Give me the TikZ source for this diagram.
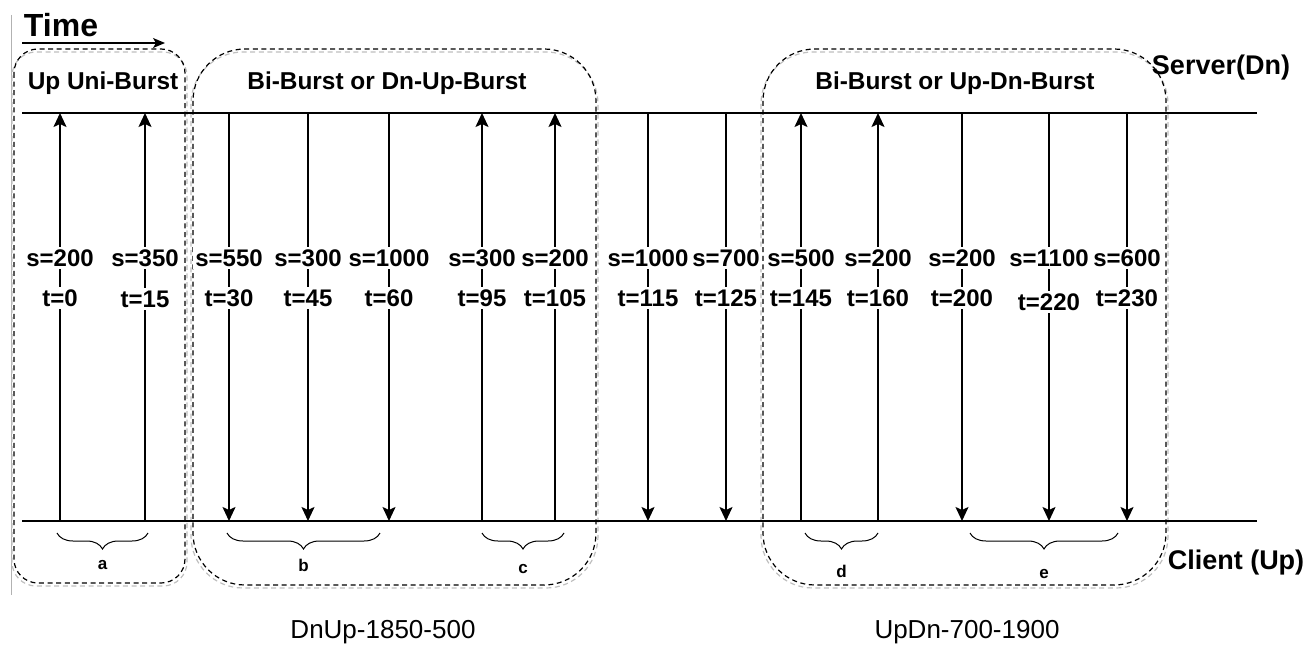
\documentclass[tikz,border=0pt]{standalone}
\usepackage{fontspec}
\setmainfont{Liberation Sans}
\usetikzlibrary{arrows.meta,decorations.pathreplacing}
\begin{document}
\begin{tikzpicture}[x=0.5pt,y=-0.5pt,
  axisline/.style={line width=0.6pt},
  msg/.style={line width=0.9pt,-{Stealth[length=7pt,width=6.5pt,inset=1.5pt]}},
  lbl/.style={fill=white,inner sep=1.2pt,font=\bfseries\fontsize{12}{14}\selectfont},
  burst/.style={dash pattern=on 2.5pt off 1.8pt,line width=0.6pt},
  burstshadow/.style={dash pattern=on 2.5pt off 1.8pt,line width=0.6pt,draw=black!25},
  title/.style={font=\bfseries\fontsize{12.2}{14}\selectfont},
  side/.style={font=\bfseries\fontsize{13.5}{16}\selectfont},
  brc/.style={decorate,decoration={brace,mirror,amplitude=8pt},line width=0.5pt},
  brlbl/.style={font=\bfseries\fontsize{8.5}{10}\selectfont},
  caption/.style={font=\fontsize{13}{16}\selectfont}
]
\useasboundingbox (0,0) rectangle (1312,658);
% left gray margin line
\draw[black!30,line width=0.5pt] (11,15) -- (11,595);
% time arrow
\node[font=\bfseries\fontsize{16}{18}\selectfont] (time) at (61,25) {Time};
\coordinate (timeL) at (22,43);
\coordinate (timeR) at (165,43);
\draw[line width=0.6pt,-{Stealth[length=6pt,width=5pt,inset=1.5pt]}] (timeL) -- (timeR);
% burst boxes
\draw[burstshadow,rounded corners=12pt] (12,52) rectangle (187,586);
\draw[burst,rounded corners=12pt] (14,49) rectangle (185,583);
\draw[burstshadow,rounded corners=26pt] (191,52) rectangle (598,588);
\draw[burst,rounded corners=26pt] (193,49) rectangle (596,585);
\draw[burstshadow,rounded corners=26pt] (761,52) rectangle (1168,588);
\draw[burst,rounded corners=26pt] (763,49) rectangle (1166,585);
\node[title] (b1) at (103,83) {Up Uni-Burst};
\node[title] (b2) at (387,83) {Bi-Burst or Dn-Up-Burst};
\node[title] (b3) at (955,83) {Bi-Burst or Up-Dn-Burst};
% server / client lines
\coordinate (srvL) at (22,113);
\coordinate (srvR) at (1257,113);
\coordinate (cliL) at (22,521);
\coordinate (cliR) at (1257,521);
\draw[axisline] (srvL) -- (srvR);
\draw[axisline] (cliL) -- (cliR);
\node[side] (server) at (1221,68) {Server(Dn)};
\node[side] (client) at (1236,563) {Client (Up)};
% upward messages
\foreach \i/\x/\s/\t/\ty in {1/60/200/0/298, 2/145/350/15/299, 6/482/300/95/298, 7/555/200/105/298, 10/801/500/145/298, 11/878/200/160/298} {
  \coordinate (top\i) at (\x,113);
  \coordinate (bot\i) at (\x,521);
  \draw[msg] (bot\i) -- (top\i);
  \node[lbl] (s\i) at (\x,258) {s=\s};
  \node[lbl] (t\i) at (\x,\ty) {t=\t};
}
% downward messages
\foreach \i/\x/\s/\t/\ty in {3/229/550/30/298, 4/308/300/45/298, 5/389/1000/60/298, 8/648/1000/115/298, 9/726/700/125/298, 12/962/200/200/298, 13/1049/1100/220/302, 14/1127/600/230/298} {
  \coordinate (top\i) at (\x,113);
  \coordinate (bot\i) at (\x,521);
  \draw[msg] (top\i) -- (bot\i);
  \node[lbl] (s\i) at (\x,258) {s=\s};
  \node[lbl] (t\i) at (\x,\ty) {t=\t};
}
% braces
\foreach \n/\xa/\xb/\ly in {a/57/148/565, b/227/380/565, c/482/564/569, d/805/878/571, e/970/1118/574} {
  \coordinate (br\n L) at (\xa,533);
  \coordinate (br\n R) at (\xb,533);
  \draw[brc] (br\n L) -- (br\n R);
  \node[brlbl] (lab\n) at ({(\xa+\xb)/2},\ly) {\n};
}
% captions
\node[caption] (cap1) at (383,632) {DnUp-1850-500};
\node[caption] (cap2) at (967,632) {UpDn-700-1900};
\end{tikzpicture}
\end{document}
